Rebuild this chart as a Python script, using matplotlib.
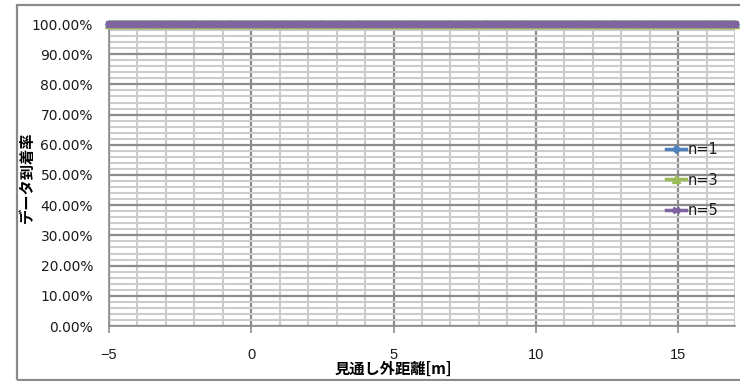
import numpy as np
import matplotlib
matplotlib.use("Agg")
import matplotlib.pyplot as plt
from matplotlib.ticker import MultipleLocator, FuncFormatter
from matplotlib.patches import Rectangle

plt.rcParams['font.family'] = ['DejaVu Sans', 'Noto Sans CJK JP']

# ---- data ----
distance = np.round(np.arange(-5.0, 17.0001, 0.1), 2)   # measurement positions [m]
rate_n1 = [100.0] * len(distance)   # arrival rate [%], constant 100 %
rate_n3 = [100.0] * len(distance)
rate_n5 = [100.0] * len(distance)
series_labels = ["n=1", "n=3", "n=5"]
xlabel = "見通し外距離[m]"
ylabel = "データ到着率"

W, H = 740, 381
fig = plt.figure(figsize=(W / 100, H / 100), dpi=100)
fig.patch.set_facecolor("white")

# outer frame
fig.patches.append(Rectangle((17 / W, 1 / H), 1.0, (375) / H, transform=fig.transFigure,
                             fill=False, edgecolor="#8a8a8a", linewidth=1.6, zorder=0))

ax = fig.add_axes([109 / W, 1 - 326 / H, (735 - 109) / W, (326 - 24) / H])
ax.set_xlim(-5, 17)
ax.set_ylim(0, 100)

ax.xaxis.set_major_locator(MultipleLocator(5))
ax.xaxis.set_minor_locator(MultipleLocator(1))
ax.yaxis.set_major_locator(MultipleLocator(10))
ax.yaxis.set_minor_locator(MultipleLocator(2))

ax.grid(which="minor", color="#cccccc", linewidth=1.5, zorder=0)
ax.grid(which="major", color="#8c8c8c", linewidth=1.6, zorder=0)
ax.set_axisbelow(True)

for s in ["top", "right"]:
    ax.spines[s].set_visible(False)
for s in ["left", "bottom"]:
    ax.spines[s].set_color("#8c8c8c")
    ax.spines[s].set_linewidth(1.2)

ax.yaxis.set_major_formatter(FuncFormatter(lambda v, p: f"{v:.2f}%"))
ax.xaxis.set_major_formatter(FuncFormatter(lambda v, p: f"{int(v)}" if v >= 0 else f"\u2212{int(-v)}"))
ax.tick_params(axis="y", which="both", length=0, pad=11.5, labelsize=10, labelcolor="#1a1a1a")
ax.tick_params(axis="x", which="major", length=5, width=1.2, color="#8c8c8c", pad=11,
               labelsize=10.5, labelcolor="#1a1a1a")
ax.tick_params(axis="x", which="minor", length=0)
for lab in ax.get_xticklabels():
    lab.set_family(["Liberation Sans", "DejaVu Sans"])

ax.plot(distance, rate_n1, color="#4F81BD", lw=2.5, marker="D", ms=4.5, mec="#4F81BD",
        label=series_labels[0], clip_on=False, zorder=3)
ax.plot(distance, rate_n3, color="#9BBB59", lw=2.5, marker="^", ms=5.5, mec="#9BBB59",
        label=series_labels[1], clip_on=False, zorder=4)
ax.plot(distance, rate_n5, color="#8064A2", lw=5, marker="x", ms=4, mew=2, mec="#8064A2",
        label=series_labels[2], clip_on=False, zorder=5)

leg = ax.legend(loc="center left", bbox_to_anchor=(666 / W, 1 - 180 / H),
                bbox_transform=fig.transFigure, frameon=False, fontsize=10.5,
                handlelength=1.4, handletextpad=0.1, labelspacing=1.05, borderpad=0,
                borderaxespad=0, numpoints=1, markerscale=1.0)
for h in leg.legend_handles:
    h.set_linewidth(2.5)
for t in leg.get_texts():
    t.set_color("#1a1a1a")

fig.text(27 / W, 1 - 177 / H, ylabel, rotation=90, ha="center", va="center",
         fontsize=11, fontweight="bold", family=["Noto Sans CJK JP", "DejaVu Sans"])
fig.text(393 / W, 1 - 369 / H, xlabel, ha="center", va="center",
         fontsize=11, fontweight="bold", family=["Noto Sans CJK JP", "DejaVu Sans"])

fig.savefig("out.png", dpi=100, facecolor="white")
